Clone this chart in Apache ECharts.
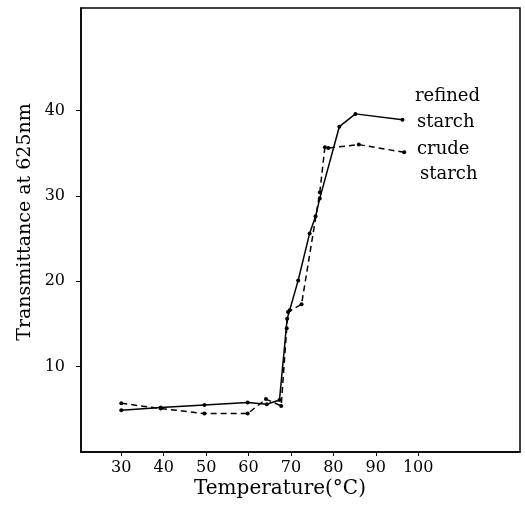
<!DOCTYPE html>
<html>
<head>
<meta charset="utf-8">
<script src="https://cdn.jsdelivr.net/npm/echarts@6/dist/echarts.min.js"></script>
<style>html,body{margin:0;padding:0;background:#fff}#c{width:525px;height:511px}</style>
</head>
<body>
<div id="c"></div>
<script>
const refinedTemp = [30, 39.3, 49.6, 59.8, 64.3, 67.3, 69.1, 69.7, 71.7, 74.4, 75.8, 76.8, 81.4, 85.2, 96.3];
const refinedT    = [4.9, 5.2, 5.5, 5.8, 5.6, 6.1, 15.6, 16.6, 20.1, 25.6, 27.6, 29.7, 38.1, 39.6, 38.9];
const crudeTemp = [30, 39.3, 49.6, 59.8, 64.1, 67.7, 69.0, 69.3, 72.5, 76.8, 78.0, 78.8, 86.0, 96.7];
const crudeT    = [5.7, 5.1, 4.5, 4.5, 6.2, 5.4, 14.5, 16.4, 17.3, 30.4, 35.7, 35.6, 36.0, 35.1];
const xTicks = [30, 40, 50, 60, 70, 80, 90, 100];
const yTicks = [10, 20, 30, 40];
const seriesNames = ['refined starch', 'crude starch'];

const serif = 'DejaVu Serif, Liberation Serif, serif';
const zip = (a, b) => a.map((v, i) => [v, b[i]]);
const chart = echarts.init(document.getElementById('c'));
chart.setOption({
  animation: false,
  backgroundColor: '#fff',
  grid: {left: 81, right: 5, top: 8, bottom: 59, show: true, borderColor: '#000', borderWidth: 1.5},
  xAxis: {
    type: 'value', min: 20.5, max: 124,
    axisLine: {show: true, lineStyle: {color: '#000', width: 1.5}},
    axisTick: {show: true, customValues: xTicks, length: 4, inside: false, lineStyle: {color: '#000'}},
    axisLabel: {customValues: xTicks, color: '#000', fontFamily: serif, fontSize: 16, margin: 8},
    splitLine: {show: false}
  },
  yAxis: {
    type: 'value', min: 0, max: 52,
    axisLine: {show: true, lineStyle: {color: '#000', width: 1.5}},
    axisTick: {show: true, customValues: yTicks, length: 5, lineStyle: {color: '#000'}},
    axisLabel: {customValues: yTicks, color: '#000', fontFamily: serif, fontSize: 16, margin: 16},
    splitLine: {show: false}
  },
  series: [
    {name: seriesNames[0], type: 'line', data: zip(refinedTemp, refinedT),
     symbol: 'circle', symbolSize: 4, itemStyle: {color: '#000'},
     lineStyle: {color: '#000', width: 1.5}},
    {name: seriesNames[1], type: 'line', data: zip(crudeTemp, crudeT),
     symbol: 'circle', symbolSize: 4, itemStyle: {color: '#000'},
     lineStyle: {color: '#000', width: 1.5, type: [6, 4]}}
  ],
  graphic: [
    {type: 'text', left: 415, top: 87, style: {text: 'refined', font: '18px ' + serif, fill: '#000'}},
    {type: 'text', left: 417, top: 113, style: {text: 'starch', font: '18px ' + serif, fill: '#000'}},
    {type: 'text', left: 417, top: 140, style: {text: 'crude', font: '18px ' + serif, fill: '#000'}},
    {type: 'text', left: 420, top: 165, style: {text: 'starch', font: '18px ' + serif, fill: '#000'}},
    {type: 'text', left: 194, top: 479, style: {text: 'Temperature(°C)', font: '20px ' + serif, fill: '#000'}},
    {type: 'text', x: 25, y: 222, rotation: Math.PI / 2,
     style: {text: 'Transmittance at 625nm', font: '19px ' + serif, fill: '#000', align: 'center', verticalAlign: 'middle'}}
  ]
});
</script>
</body>
</html>
